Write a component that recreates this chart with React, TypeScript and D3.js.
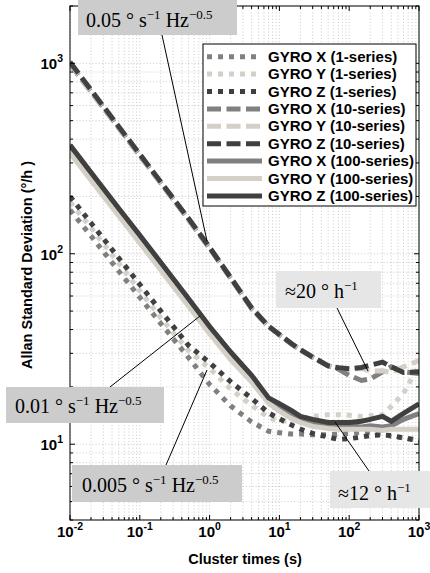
import React from 'react';
import * as d3 from 'd3';

// Cluster times (s)
const taus = [0.01, 0.02, 0.05, 0.1, 0.2, 0.5, 1, 2, 4, 7, 10, 15, 20, 30, 50, 70, 100, 150, 200, 300, 400, 600, 1000];

// Allan deviation (deg/h)
const gyroX1 = [170, 124, 81, 59, 43, 28.5, 20.6, 15.9, 13.1, 11.7, 11.5, 11.3, 11.3, 11.2, 11.2, 11.3, 11.4, 11.6, 11.5, 11.3, 11.0, 10.8, 10.5];
const gyroY1 = [187, 137, 89, 64, 46, 31, 25, 19.5, 16, 13.8, 13.2, 13.3, 13.6, 14, 14.3, 14.3, 14.2, 14, 14.1, 14.3, 15.8, 18.5, 26];
const gyroZ1 = [200, 145, 95, 69, 50, 33, 26.8, 21.3, 17.4, 14.6, 13.6, 12.6, 12, 11.4, 10.9, 10.6, 10.7, 10.9, 11.1, 11.2, 11.1, 10.8, 10.4];
const gyroX10 = [990, 710, 458, 328, 235, 151, 107, 74.5, 51.5, 41.5, 37.5, 33.5, 31.3, 28.6, 25.8, 24.8, 23, 21.6, 22, 24, 25.5, 24, 23.5];
const gyroY10 = [1000, 715, 460, 330, 236, 152, 108, 75, 52, 41.8, 37.7, 33.7, 31.4, 28.7, 25.8, 25.2, 24.8, 25, 24.2, 24.3, 23.8, 25.5, 27.5];
const gyroZ10 = [1015, 725, 465, 333, 238, 153, 108, 75, 52, 41.6, 37.7, 33.7, 31.4, 28.7, 25.8, 25.2, 24.9, 25.3, 26, 27, 25.5, 23.8, 24];
const gyroX100 = [370, 266, 172, 124, 89, 57.5, 41.3, 30.3, 22.5, 16.9, 15.6, 14.5, 13.8, 13, 12.7, 12.5, 12.5, 12.3, 12.5, 12.3, 12.5, 13.5, 14.5];
const gyroY100 = [338, 243, 158, 114, 82, 53, 38, 27.8, 21.2, 16.4, 14.9, 13.6, 13, 12.4, 12.1, 12, 12, 12, 12, 11.8, 12, 12, 12];
const gyroZ100 = [372, 267, 173, 125, 90, 58, 41.5, 30.5, 23, 17.5, 16.3, 15, 14, 13.5, 13, 13, 13, 13.2, 13.5, 14, 13.2, 14.5, 16.3];

const legendLabels = [
  'GYRO X (1-series)', 'GYRO Y (1-series)', 'GYRO Z (1-series)',
  'GYRO X (10-series)', 'GYRO Y (10-series)', 'GYRO Z (10-series)',
  'GYRO X (100-series)', 'GYRO Y (100-series)', 'GYRO Z (100-series)',
];
const seriesValues = [gyroX1, gyroY1, gyroZ1, gyroX10, gyroY10, gyroZ10, gyroX100, gyroY100, gyroZ100];

const xMajor = [-2, -1, 0, 1, 2, 3];
const yMajor = [1, 2, 3];

const COLORS = ['#808080', '#d4d0c8', '#404040'];
const DASHES = ['5 6', '14 5.5', null];

const SANS = '"Liberation Sans", Arial, Helvetica, sans-serif';
const SERIF = '"Liberation Serif", "Times New Roman", Times, serif';

export default function App() {
  const L = 70, R = 419, T = 6, B = 520;
  const x = d3.scaleLog().domain([0.01, 1000]).range([L, R]);
  const y = d3.scaleLog().domain([4, 2000]).range([B, T]);
  const xTicks = x.ticks();
  const yTicks = y.ticks();
  const isMajor = (v: number) => Math.abs(Math.log10(v) - Math.round(Math.log10(v))) < 1e-9;

  const line = d3.line<number>().x((_, i) => x(taus[i])).y((d) => y(d));

  const gridColor = '#bdbdbd';

  const ann = (
    lead: string,
    sup1: string,
    mid: string,
    sup2: string | null,
    tx: number,
    ty: number,
  ) => (
    <text x={tx} y={ty} fontFamily={SERIF} fontSize={20} fill="#000">
      {lead}
      <tspan dy={-8} fontSize={13}>{sup1}</tspan>
      <tspan dy={8}>{mid}</tspan>
      {sup2 !== null && <tspan dy={-8} fontSize={13}>{sup2}</tspan>}
    </text>
  );

  const legX = 203, legY = 44, legW = 213, legH = 162;

  return (
    <svg width={430} height={573} style={{ position: 'absolute', left: 0, top: 0, background: '#fff' }}>
      <defs>
        <clipPath id="plotClip">
          <rect x={L} y={T} width={R - L} height={B - T} />
        </clipPath>
      </defs>
      <rect x={0} y={0} width={430} height={573} fill="#fff" />
      {/* grid */}
      <g stroke={gridColor} strokeWidth={0.8} strokeDasharray="1 2.2">
        {xTicks.map((t, i) => (
          <line key={'gx' + i} x1={x(t)} x2={x(t)} y1={T} y2={B} />
        ))}
        {yTicks.map((t, i) => (
          <line key={'gy' + i} x1={L} x2={R} y1={y(t)} y2={y(t)} />
        ))}
      </g>
      {/* curves */}
      <g clipPath="url(#plotClip)" fill="none">
        {seriesValues.map((vals, i) => {
          const col = COLORS[i % 3];
          const dash = DASHES[Math.floor(i / 3)];
          return (
            <path
              key={'s' + i}
              d={line(vals) || ''}
              stroke={col}
              strokeWidth={5}
              strokeDasharray={dash || undefined}
              strokeLinejoin="miter"
            />
          );
        })}
      </g>
      {/* axes box and ticks */}
      <g stroke="#000" strokeWidth={1} fill="none">
        <rect x={L} y={T} width={R - L} height={B - T} />
        {xTicks.map((t, i) => {
          const len = isMajor(t) ? 5 : 3;
          return (
            <g key={'tx' + i}>
              <line x1={x(t)} x2={x(t)} y1={B} y2={B - len} />
              <line x1={x(t)} x2={x(t)} y1={T} y2={T + len} />
            </g>
          );
        })}
        {yTicks.map((t, i) => {
          const len = isMajor(t) ? 5 : 3;
          return (
            <g key={'ty' + i}>
              <line x1={L} x2={L + len} y1={y(t)} y2={y(t)} />
              <line x1={R} x2={R - len} y1={y(t)} y2={y(t)} />
            </g>
          );
        })}
      </g>
      {/* tick labels */}
      <g fontFamily={SANS} fontWeight="bold" fill="#000">
        {xMajor.map((e) => (
          <text key={'xl' + e} x={x(Math.pow(10, e))} y={537} fontSize={15} textAnchor="middle">
            10<tspan dy={-7} fontSize={10.5}>{String(e)}</tspan>
          </text>
        ))}
        {yMajor.map((e) => (
          <text key={'yl' + e} x={63} y={y(Math.pow(10, e)) + 6} fontSize={15} textAnchor="end">
            10<tspan dy={-7} fontSize={10.5}>{String(e)}</tspan>
          </text>
        ))}
        <text x={245} y={564} fontSize={14.5} textAnchor="middle">Cluster times (s)</text>
        <text transform="translate(32,265) rotate(-90)" fontSize={14.5} textAnchor="middle">
          Allan Standard Deviation (°/h )
        </text>
      </g>
      {/* legend */}
      <g>
        <rect x={legX} y={legY} width={legW} height={legH} fill="#fff" stroke="#000" strokeWidth={1} />
        {legendLabels.map((lab, i) => {
          const cy = legY + 12.7 + i * 17.4;
          const col = COLORS[i % 3];
          const dash = DASHES[Math.floor(i / 3)];
          return (
            <g key={'lg' + i}>
              <line
                x1={legX + 4}
                x2={legX + 59}
                y1={cy}
                y2={cy}
                stroke={col}
                strokeWidth={5}
                strokeDasharray={dash || undefined}
              />
              <text x={legX + 65} y={cy + 5} fontFamily={SANS} fontWeight="bold" fontSize={15} fill="#000">
                {lab}
              </text>
            </g>
          );
        })}
      </g>
      {/* annotation arrows */}
      <g stroke="#000" strokeWidth={1}>
        <line x1={162} y1={35} x2={207} y2={241} />
        <line x1={337} y1={308} x2={368} y2={371} />
        <line x1={110} y1={387} x2={200} y2={316} />
        <line x1={166} y1={465} x2={207} y2={370} />
        <line x1={369} y1={471} x2={335} y2={422} />
      </g>
      {/* annotation boxes */}
      <rect x={78} y={0} width={159} height={35} fill="#cccccc" />
      {ann('0.05 ° s', '−1', ' Hz', '−0.5', 86, 27)}
      <rect x={276} y={271} width={105} height={37} fill="#e6e6e6" />
      {ann('≈20 ° h', '−1', '', null, 285, 298)}
      <rect x={6} y={387} width={158} height={36} fill="#cccccc" />
      {ann('0.01 ° s', '−1', ' Hz', '−0.5', 15, 413)}
      <rect x={72} y={465} width={170} height={37} fill="#cccccc" />
      {ann('0.005 ° s', '−1', ' Hz', '−0.5', 82, 492)}
      <rect x={330} y={471} width={100} height={37} fill="#e6e6e6" />
      {ann('≈12 ° h', '−1', '', null, 338, 500)}
    </svg>
  );
}
